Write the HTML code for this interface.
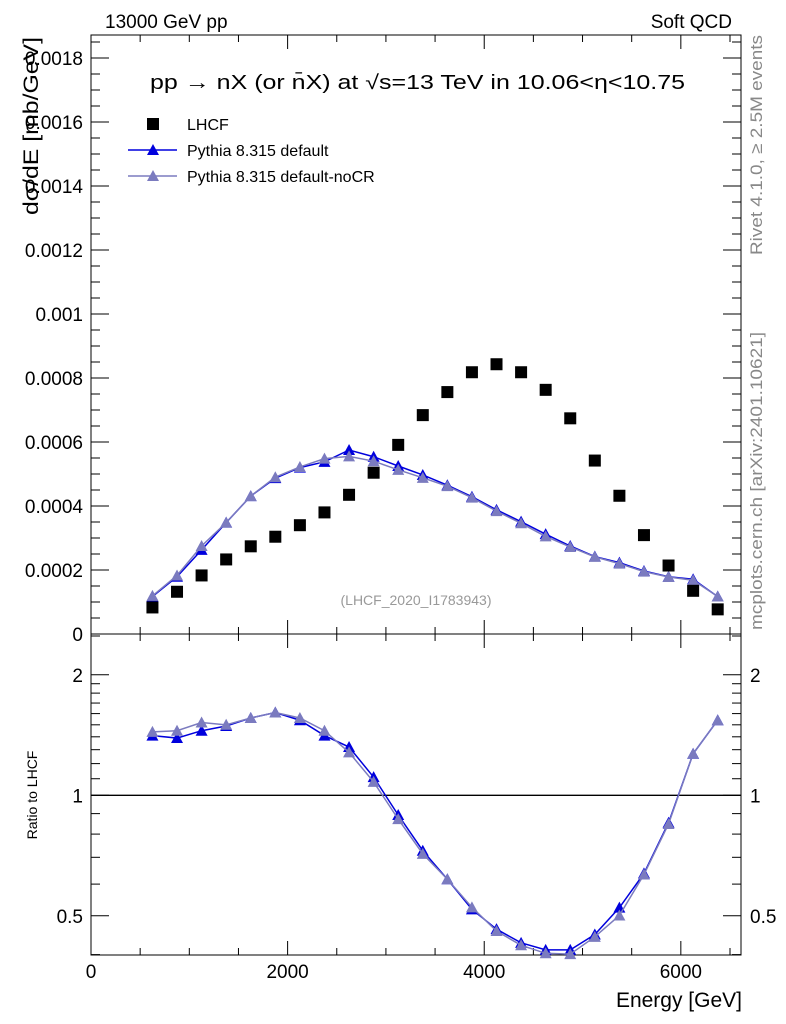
<!DOCTYPE html>
<html><head><meta charset="utf-8"><style>
body{margin:0;background:#fff;}
svg{display:block;font-family:"Liberation Sans",sans-serif;}
</style></head><body>
<svg id="c" width="786" height="1024"></svg>
<script>
const energies=[625,875,1125,1375,1625,1875,2125,2375,2625,2875,3125,3375,3625,3875,4125,4375,4625,4875,5125,5375,5625,5875,6125,6375];
const lhcf=[0.000083,0.000132,0.000183,0.000233,0.000274,0.000304,0.00034,0.00038,0.000435,0.000504,0.000591,0.000684,0.000756,0.000818,0.000843,0.000818,0.000763,0.000674,0.000542,0.000432,0.000309,0.000214,0.000135,0.000077];
const pyDef=[0.000117,0.000179,0.000263,0.000348,0.000431,0.000487,0.00052,0.000538,0.000575,0.000554,0.000525,0.000497,0.000465,0.000429,0.000388,0.000351,0.000312,0.000275,0.000242,0.000223,0.000197,0.000179,0.000171,0.000117];
const pyNoCR=[0.000119,0.000183,0.000275,0.000348,0.000431,0.00049,0.000522,0.000548,0.000555,0.00054,0.000513,0.000488,0.000462,0.000426,0.000384,0.000346,0.000305,0.000272,0.000241,0.00022,0.000195,0.000178,0.000168,0.000117];
const ratioDef=[1.41,1.39,1.45,1.49,1.56,1.61,1.54,1.41,1.32,1.11,0.893,0.727,0.617,0.519,0.463,0.428,0.411,0.411,0.449,0.524,0.638,0.854,1.27,1.54];
const ratioNoCR=[1.44,1.45,1.52,1.50,1.56,1.61,1.56,1.45,1.28,1.08,0.872,0.714,0.617,0.525,0.458,0.422,0.403,0.401,0.443,0.501,0.634,0.848,1.27,1.54];
const yTicks=["0","0.0002","0.0004","0.0006","0.0008","0.001","0.0012","0.0014","0.0016","0.0018"];
const xTicks=["0","2000","4000","6000"];
const rTicks=["0.5","1","2"];

const NS="http://www.w3.org/2000/svg";
const svg=document.getElementById('c');
function mk(t,a,txt){const e=document.createElementNS(NS,t);for(const k in a)e.setAttribute(k,a[k]);if(txt!==undefined)e.textContent=txt;svg.appendChild(e);return e;}
const L=91,R=741,T=35,M=634,B=955;
const X=v=>L+v*(R-L)/6612;
const Y=v=>M-v*320000;
const YR=v=>795.3-120.5*Math.log2(v);

let e;
e=mk('rect',{x:L,y:T,width:R-L,height:M-T,fill:'none',stroke:'#000','stroke-width':1});

e=mk('rect',{x:L,y:M,width:R-L,height:B-M,fill:'none',stroke:'#000','stroke-width':1});


for(let v=0;v<=6500;v+=500){const maj=v%2000===0;const len=maj?14:7;const x=X(v);
 mk('line',{x1:x,x2:x,y1:M,y2:M-len,stroke:'#000'});mk('line',{x1:x,x2:x,y1:T,y2:T+len,stroke:'#000'});
 mk('line',{x1:x,x2:x,y1:B,y2:B-len,stroke:'#000'});mk('line',{x1:x,x2:x,y1:M,y2:M+len,stroke:'#000'});}
xTicks.forEach(s=>{e=mk('text',{x:X(+s),y:978,'font-size':19,'text-anchor':'middle'},s);
 });
for(let i=0;i<=37;i++){const v=i*0.00005;const y=Y(v);if(y<T)break;const maj=i%4===0;const len=maj?18:9;
 mk('line',{x1:L,x2:L+len,y1:y,y2:y,stroke:'#000'});mk('line',{x1:R,x2:R-len,y1:y,y2:y,stroke:'#000'});}
yTicks.forEach(s=>{e=mk('text',{x:83,y:Y(+s)+7,'font-size':19,'text-anchor':'end'},s);
 });
[0.4,0.5,0.6,0.7,0.8,0.9,1,1.1,1.2,1.3,1.4,1.5,1.6,1.7,1.8,1.9,2,2.5].forEach(v=>{const y=YR(v);if(y<M||y>B)return;
 const maj=(v===0.5||v===1||v===2);const len=maj?18:9;
 mk('line',{x1:L,x2:L+len,y1:y,y2:y,stroke:'#000'});mk('line',{x1:R,x2:R-len,y1:y,y2:y,stroke:'#000'});});
rTicks.forEach(s=>{e=mk('text',{x:83,y:YR(+s)+7,'font-size':19,'text-anchor':'end'},s);
 
 e=mk('text',{x:750,y:YR(+s)+7,'font-size':19},s);
 });
e=mk('line',{x1:L,x2:R,y1:YR(1),y2:YR(1),stroke:'#000','stroke-width':1.3});


function tri(x,y,c,name){const p=mk('polygon',{points:`${x},${y-6} ${x-6},${y+5} ${x+6},${y+5}`,fill:c});
 }
function series(vals,yf,c,name){const pts=energies.map((E,i)=>X(E)+','+yf(vals[i])).join(' ');
 const l=mk('polyline',{points:pts,fill:'none',stroke:c,'stroke-width':1.5});
 
 energies.forEach((E,i)=>tri(X(E),yf(vals[i]),c,name+'-marker'));}
series(pyDef,Y,'#0000dd','pythia-default');
series(pyNoCR,Y,'#7b7bbf','pythia-nocr');
series(ratioDef,YR,'#0000dd','ratio-default');
series(ratioNoCR,YR,'#7b7bbf','ratio-nocr');
energies.forEach((E,i)=>{const s=mk('rect',{x:X(E)-6,y:Y(lhcf[i])-6,width:12,height:12,fill:'#000'});
 });

function txt(a,t,name){const el=mk('text',a,t);return el;}
txt({x:105,y:28,'font-size':19},'13000 GeV pp','header-left');
txt({x:732,y:28,'font-size':19,'text-anchor':'end'},'Soft QCD','header-right');
txt({x:150,y:89,'font-size':20,textLength:535,lengthAdjust:'spacingAndGlyphs'},'pp  →  nX (or n̄X) at √s=13 TeV in 10.06<η<10.75','plot-title');
txt({x:416,y:605,'font-size':14,fill:'#999','text-anchor':'middle'},'(LHCF_2020_I1783943)','analysis-id');
txt({x:742,y:1007,'font-size':21,'text-anchor':'end'},'Energy [GeV]','x-axis-title');
txt({x:0,y:0,'font-size':21,transform:'translate(38,215) rotate(-90)',textLength:178,lengthAdjust:'spacingAndGlyphs'},'dσ/dE [mb/GeV]','y-axis-title');
txt({x:0,y:0,'font-size':14,transform:'translate(37,795) rotate(-90)','text-anchor':'middle'},'Ratio to LHCF','ratio-axis-title');
txt({x:0,y:0,'font-size':17,fill:'#888',transform:'translate(762,255) rotate(-90)',textLength:220,lengthAdjust:'spacingAndGlyphs'},'Rivet 4.1.0, ≥ 2.5M events','rivet-label');
txt({x:0,y:0,'font-size':17,fill:'#888',transform:'translate(762,630) rotate(-90)',textLength:298,lengthAdjust:'spacingAndGlyphs'},'mcplots.cern.ch [arXiv:2401.10621]','mcplots-label');
e=mk('rect',{x:147,y:118,width:12,height:12,fill:'#000'});
txt({x:187,y:130,'font-size':16},'LHCF','legend-lhcf');
e=mk('line',{x1:128,x2:177,y1:150,y2:150,stroke:'#0000dd','stroke-width':1.5});
tri(153,150,'#0000dd','legend-default-marker');
txt({x:187,y:156,'font-size':16},'Pythia 8.315 default','legend-default');
e=mk('line',{x1:128,x2:177,y1:176,y2:176,stroke:'#7b7bbf','stroke-width':1.5});
tri(153,176,'#7b7bbf','legend-nocr-marker');
txt({x:187,y:182,'font-size':16},'Pythia 8.315 default-noCR','legend-nocr');
</script>
</body></html>
